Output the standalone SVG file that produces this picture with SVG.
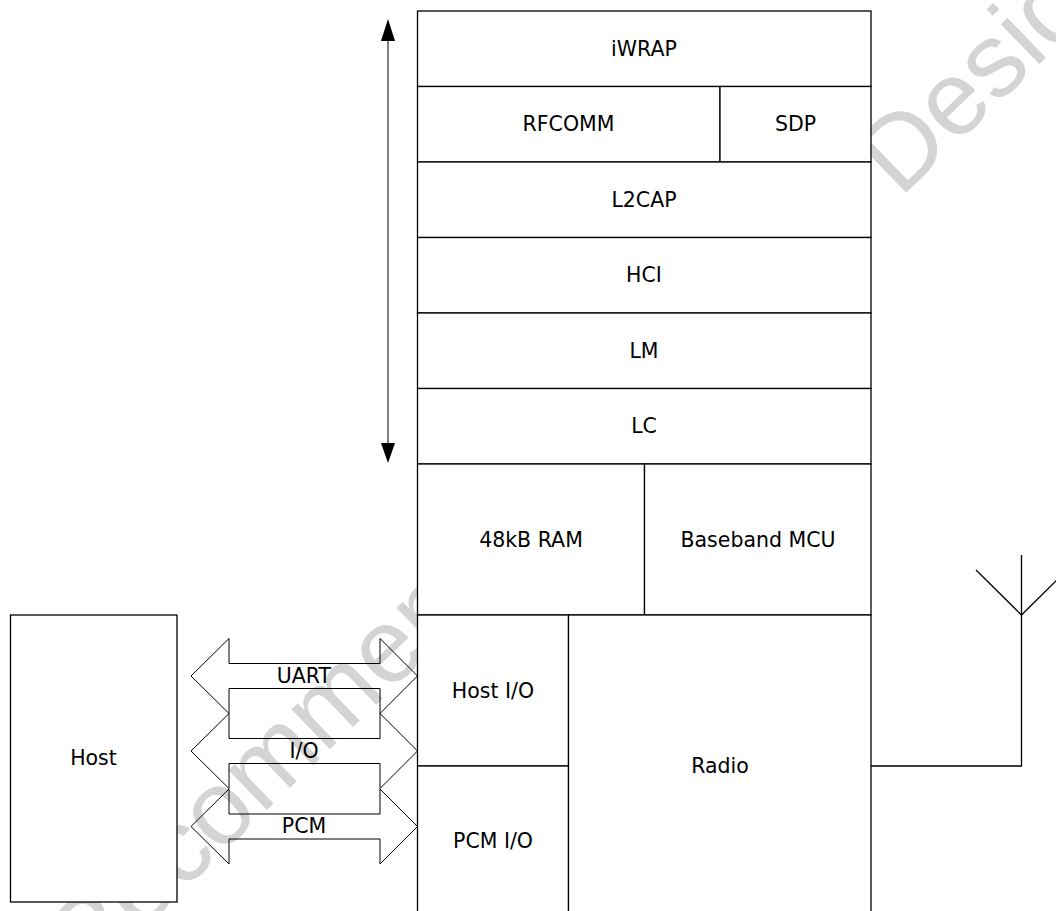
<svg xmlns="http://www.w3.org/2000/svg" width="1056" height="911" viewBox="0 0 1056 911">
<style>
.cell{fill:#fff;stroke:#000;stroke-width:1.3}
.lbl{font-family:"DejaVu Sans",Verdana,sans-serif;font-size:20.5px;fill:#000;text-anchor:middle;dominant-baseline:central}
.barrow{fill:none;stroke:#000;stroke-width:1}
.wire{fill:none;stroke:#000;stroke-width:1.3}
.wm{font-family:"Liberation Sans",Arial,sans-serif;font-size:105px;fill:#d4d4d4}
</style>
<defs>
<marker id="tri" viewBox="0 0 14 22" refX="14" refY="7" markerWidth="22" markerHeight="14" orient="auto" markerUnits="userSpaceOnUse">
<path d="M0,0 L22,7 L0,14 Z" fill="#000"/>
</marker>
</defs>
<rect width="1056" height="911" fill="#fff"/>
<g id="watermark">
<text class="wm" transform="translate(-53,1119) rotate(-44)">Not Recommended for New Designs</text>
</g>
<g id="iwrap"><rect class="cell" x="417.5" y="11" width="453.5" height="75.5"/><text class="lbl" x="644" y="48.5">iWRAP</text></g>
<g id="rfcomm"><rect class="cell" x="417.5" y="86.5" width="302.5" height="75.5"/><text class="lbl" x="568.5" y="124">RFCOMM</text></g>
<g id="sdp"><rect class="cell" x="720" y="86.5" width="151" height="75.5"/><text class="lbl" x="795.5" y="124">SDP</text></g>
<g id="l2cap"><rect class="cell" x="417.5" y="162" width="453.5" height="75.5"/><text class="lbl" x="644" y="199.5">L2CAP</text></g>
<g id="hci"><rect class="cell" x="417.5" y="237.5" width="453.5" height="75.5"/><text class="lbl" x="644" y="275">HCI</text></g>
<g id="lm"><rect class="cell" x="417.5" y="313" width="453.5" height="75.5"/><text class="lbl" x="644" y="350.5">LM</text></g>
<g id="lc"><rect class="cell" x="417.5" y="388.5" width="453.5" height="75.5"/><text class="lbl" x="644" y="426">LC</text></g>
<g id="ram"><rect class="cell" x="417.5" y="464" width="227" height="151"/><text class="lbl" x="531" y="539.5">48kB RAM</text></g>
<g id="mcu"><rect class="cell" x="644.5" y="464" width="226.5" height="151"/><text class="lbl" x="758" y="539.5">Baseband MCU</text></g>
<g id="hostio"><rect class="cell" x="417.5" y="615" width="151" height="151"/><text class="lbl" x="493" y="690.5">Host I/O</text></g>
<g id="pcmio"><rect class="cell" x="417.5" y="766" width="151" height="152"/><text class="lbl" x="493" y="841">PCM I/O</text></g>
<g id="radio"><rect class="cell" x="568.5" y="615" width="302.5" height="303"/><text class="lbl" x="720" y="766">Radio</text></g>
<g id="host"><rect class="cell" x="10.5" y="615" width="166.5" height="287"/><text class="lbl" x="93.5" y="758">Host</text></g>
<g id="connectors">
<line x1="388" y1="41" x2="388" y2="443" stroke="#808080" stroke-width="2"/>
<path d="M381,41 L388,19 L395,41 Z" fill="#000"/>
<path d="M381,443 L388,463 L395,443 Z" fill="#000"/>
<polygon class="barrow" points="191,676 229,638.5 229,663.5 380,663.5 380,638.5 417.5,676 380,713.5 380,688.5 229,688.5 229,713.5"/>
<polygon class="barrow" points="191,751 229,713.5 229,738.5 380,738.5 380,713.5 417.5,751 380,788.5 380,763.5 229,763.5 229,788.5"/>
<polygon class="barrow" points="191,826.5 229,789 229,814 380,814 380,789 417.5,826.5 380,864 380,839 229,839 229,864"/>
<text class="lbl" x="304" y="675.5">UART</text>
<text class="lbl" x="304" y="750.5">I/O</text>
<text class="lbl" x="304" y="826">PCM</text>
<polyline class="wire" points="871,766 1021.5,766 1021.5,555"/>
<polyline class="wire" points="976,570 1021.5,615 1067,570"/>
</g>
</svg>
